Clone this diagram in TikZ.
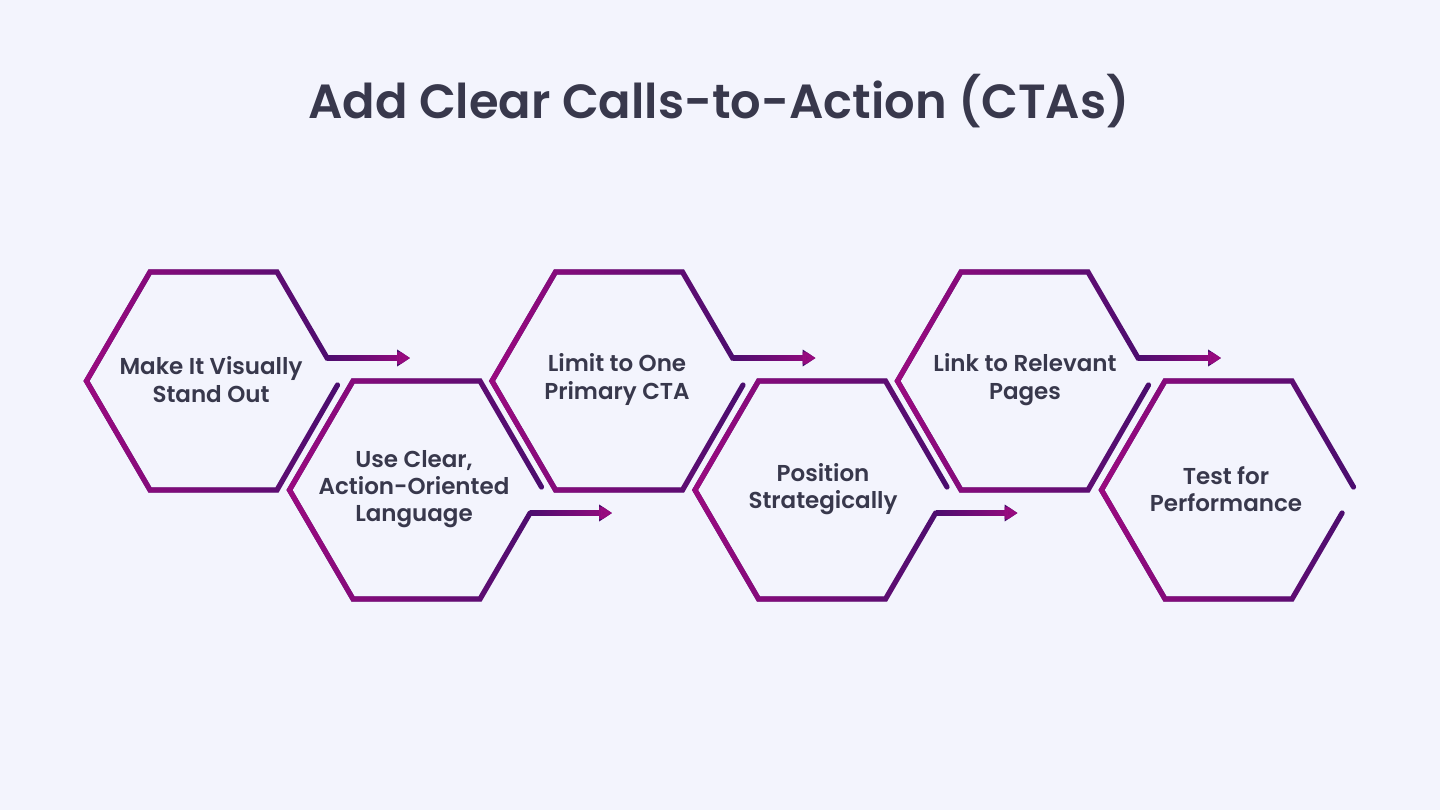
\documentclass[tikz,border=0pt]{standalone}
\usepackage{fontspec}
\setmainfont{Poppins}[BoldFont={Poppins SemiBold}]
\usepackage{xcolor}
\usetikzlibrary{arrows.meta,fadings}
\definecolor{hexmag}{RGB}{155,10,128}
\definecolor{hexpurple}{RGB}{74,14,110}
\definecolor{titlegrey}{RGB}{56,56,76}
\definecolor{bgpale}{RGB}{243,244,253}

\begin{document}
\begin{tikzpicture}[x=0.025cm, y=-0.025cm,
    hexline/.style={line width=1.3mm, line cap=round, line join=miter},
    steptext/.style={font=\fontsize{16.35}{19.4}\selectfont\bfseries, text=titlegrey, align=center},
    arrowline/.style={line width=1.3mm, -{Triangle[length=3.2mm, width=4mm]}}
]
    % background and page size
    \fill[bgpale] (0,0) rectangle (1440,810);
    \useasboundingbox (0,0) rectangle (1440,810);

    \node[font=\fontsize{34.1}{40}\selectfont\bfseries, text=titlegrey, anchor=base] (title) at (719,118)
        {Add Clear Calls-to-Action (CTAs)};

    % Upper row: arrow leaves the upper right edge
    \foreach \i/\cx in {1/213.5, 3/619, 5/1024.5} {
        \begin{scope}[shift={(\cx,381)}]
            \coordinate (c\i) at (113.6,-23);
            \coordinate (a\i) at (196.5,-23);
            \def\hexpath{(124,4) -- (63.5,109) -- (-63.5,109) -- (-127,0) -- (-63.5,-109) -- (63.5,-109) -- (c\i) -- ++(2,0)}
            \draw[hexline, hexpurple] \hexpath;
            \draw[hexline, hexmag, path fading=east] \hexpath;
        \end{scope}
        \draw[arrowline, hexpurple] (c\i) -- (a\i);
        \draw[arrowline, hexmag, path fading=west] (c\i) -- (a\i);
    }

    % Lower row: arrow leaves the lower right edge
    \foreach \i/\cx in {2/416.5, 4/822, 6/1228.5} {
        \begin{scope}[shift={(\cx,490)}]
            \coordinate (c\i) at (113.6,23);
            \coordinate (a\i) at (195.5,23);
            \def\hexpath{(125,-3) -- (63.5,-109) -- (-63.5,-109) -- (-127,0) -- (-63.5,109) -- (63.5,109) -- (c\i)}
            \draw[hexline, hexpurple] \hexpath;
            \draw[hexline, hexmag, path fading=east] \hexpath;
        \end{scope}
    }
    \foreach \i in {2,4} {
        \draw[arrowline, hexpurple] (c\i) -- (a\i);
        \draw[arrowline, hexmag, path fading=west] (c\i) -- (a\i);
    }

    % step labels
    \node[steptext] (t1) at (211,379.5) {Make It Visually\\Stand Out};
    \node[steptext] (t2) at (414,489) {Use Clear,\\Action-Oriented\\Language};
    \node[steptext] (t3) at (617,379.5) {Limit to One\\Primary CTA};
    \node[steptext] (t4) at (823,489) {Position\\Strategically};
    \node[steptext] (t5) at (1025,379.5) {Link to Relevant\\Pages};
    \node[steptext] (t6) at (1226,489) {Test for\\Performance};
\end{tikzpicture}
\end{document}
